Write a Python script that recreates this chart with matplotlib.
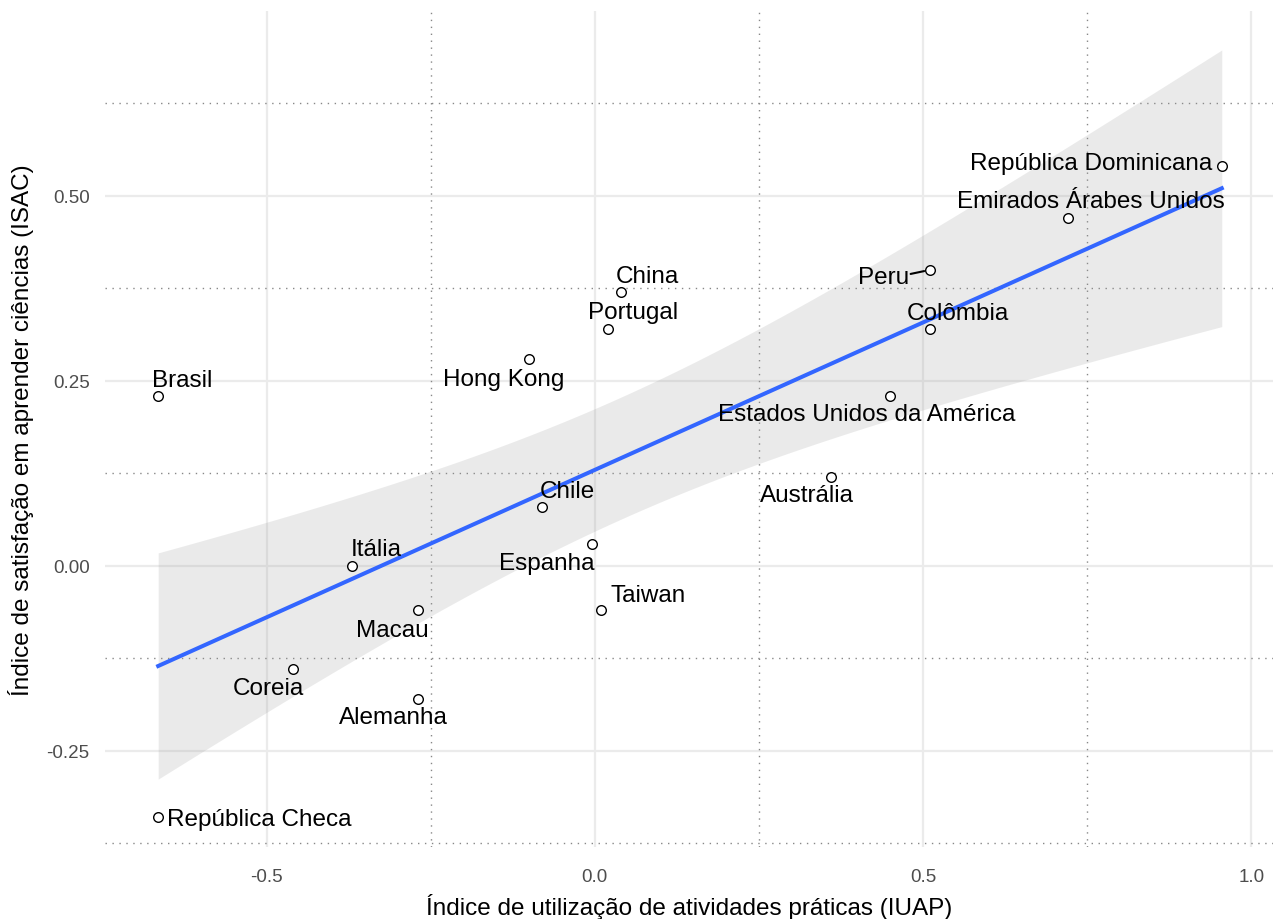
import numpy as np
import matplotlib
matplotlib.use('Agg')
import matplotlib.pyplot as plt

plt.rcParams['font.family'] = ['Liberation Sans', 'DejaVu Sans']

# data: country, practical activities index (IUAP), satisfaction index (ISAC)
countries = ['República Dominicana', 'Emirados Árabes Unidos', 'Peru', 'Colômbia',
             'Estados Unidos da América', 'Austrália', 'China', 'Portugal', 'Hong Kong',
             'Brasil', 'Chile', 'Espanha', 'Taiwan', 'Itália', 'Macau', 'Coreia',
             'Alemanha', 'República Checa']
iuap = [0.955, 0.72, 0.51, 0.51, 0.45, 0.36, 0.04, 0.02, -0.10,
        -0.665, -0.08, -0.005, 0.01, -0.37, -0.27, -0.46, -0.27, -0.665]
isac = [0.54, 0.47, 0.40, 0.32, 0.23, 0.12, 0.37, 0.32, 0.28,
        0.23, 0.08, 0.03, -0.06, 0.00, -0.06, -0.14, -0.18, -0.34]

# label nudges in pixels (dx, dy, ha) - mimic ggrepel placement
nudges = {
    'República Dominicana': (-10, 3, 'right'),
    'Emirados Árabes Unidos': (23, 17, 'center'),
    'Peru': (-46, -7, 'center'),
    'Colômbia': (28, 16, 'center'),
    'Estados Unidos da América': (-24, -18, 'center'),
    'Austrália': (-24, -18, 'center'),
    'China': (26, 16, 'center'),
    'Portugal': (25, 17, 'center'),
    'Hong Kong': (-25, -20, 'center'),
    'Brasil': (24, 16, 'center'),
    'Chile': (25, 16, 'center'),
    'Espanha': (-45, -19, 'center'),
    'Taiwan': (47, 15, 'center'),
    'Itália': (24, 17, 'center'),
    'Macau': (-25, -20, 'center'),
    'Coreia': (-24, -19, 'center'),
    'Alemanha': (-24, -18, 'center'),
    'República Checa': (9, -2, 'left'),
}

x = np.array(iuap)
y = np.array(isac)

# linear fit with 95% confidence band (like geom_smooth(method='lm'))
n = len(x)
slope, intercept = np.polyfit(x, y, 1)
resid = y - (intercept + slope * x)
s = np.sqrt(np.sum(resid ** 2) / (n - 2))
t_crit = 2.1199  # t(0.975, df=16)
xs = np.linspace(x.min(), x.max(), 100)
ys = intercept + slope * xs
se = s * np.sqrt(1 / n + (xs - x.mean()) ** 2 / np.sum((x - x.mean()) ** 2))

fig = plt.figure(figsize=(12.83, 9.2), dpi=100)
ax = fig.add_axes([105 / 1283, 1 - 848 / 920, 1168 / 1283, 836 / 920])

ax.set_xlim(-0.746, 1.033)
ax.set_ylim(-0.38, 0.75)

major_x = [-0.5, 0.0, 0.5, 1.0]
major_y = [-0.25, 0.0, 0.25, 0.5]
minor_x = [-0.25, 0.25, 0.75]
minor_y = [-0.375, -0.125, 0.125, 0.375, 0.625]

for v in major_x:
    ax.axvline(v, color='#EBEBEB', lw=1.6, zorder=0)
for v in major_y:
    ax.axhline(v, color='#EBEBEB', lw=1.6, zorder=0)
for v in minor_x:
    ax.axvline(v, color='#888888', lw=1.0, ls=(0, (1, 4)), zorder=0)
for v in minor_y:
    ax.axhline(v, color='#888888', lw=1.0, ls=(0, (1, 4)), zorder=0)

ax.fill_between(xs, ys - t_crit * se, ys + t_crit * se, color='#999999', alpha=0.2,
                lw=0, zorder=1)
ax.scatter(x, y, s=48, facecolors='white', edgecolors='black', linewidths=1.0, zorder=3)
ax.plot(xs, ys, color='#3366FF', lw=2.9, zorder=2)

for c, xi, yi in zip(countries, iuap, isac):
    dx, dy, ha = nudges[c]
    ax.annotate(c, (xi, yi), xytext=(dx, dy), textcoords='offset pixels',
                ha=ha, va='center', fontsize=17.5, color='black', zorder=4)
    if c == 'Peru':
        ax.annotate('', (xi, yi), xytext=(dx + 27, dy + 3), textcoords='offset pixels',
                    arrowprops=dict(arrowstyle='-', color='black', lw=1.5,
                                    shrinkA=0, shrinkB=4))

ax.set_xticks(major_x)
ax.set_xticklabels(['-0.5', '0.0', '0.5', '1.0'])
ax.set_yticks(major_y)
ax.set_yticklabels(['-0.25', '0.00', '0.25', '0.50'])
ax.tick_params(length=0, labelsize=13.5, labelcolor='#4D4D4D')
ax.tick_params(axis='x', pad=15)
ax.tick_params(axis='y', pad=11)
for sp in ax.spines.values():
    sp.set_visible(False)

ax.set_xlabel('Índice de utilização de atividades práticas (IUAP)', fontsize=17.5, labelpad=6)
ax.set_ylabel('Índice de satisfação em aprender ciências (ISAC)', fontsize=17.5, labelpad=9)

fig.savefig('out.png', dpi=100)
